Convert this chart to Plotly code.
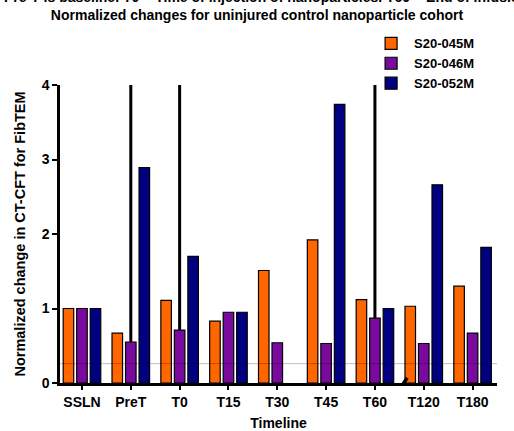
import plotly.graph_objects as go

# Timeline categories and normalized CT-CFT (FibTEM) values per subject
timeline = ["SSLN", "PreT", "T0", "T15", "T30", "T45", "T60", "T120", "T180"]
s20_045m = [1.00, 0.67, 1.11, 0.83, 1.51, 1.92, 1.12, 1.03, 1.30]
s20_046m = [1.00, 0.55, 0.71, 0.95, 0.54, 0.53, 0.87, 0.53, 0.67]
s20_052m = [1.00, 2.89, 1.70, 0.95, None, 3.74, 1.00, 2.66, 1.82]
# upper error for S20-046M (runs off the top of the axis)
s20_046m_err = [0, 4.5, 4.5, 0, 0, 0, 4.5, 0, 0]

series_names = ["S20-045M", "S20-046M", "S20-052M"]
series_colors = ["#FF6600", "#7A0A9E", "#000080"]

title_line1 = "B. Pre-T is baseline. T0 = Time of injection of nanoparticles. T60 = End of infusion"
title_line2 = "Normalized changes for uninjured control nanoparticle cohort"

font_family = "Liberation Sans, Arial, sans-serif"

fig = go.Figure()
for name, vals, col in zip(series_names, [s20_045m, s20_046m, s20_052m], series_colors):
    kw = {}
    if name == "S20-046M":
        kw["error_y"] = dict(type="data", symmetric=False, array=s20_046m_err,
                             arrayminus=[0] * len(timeline), color="black",
                             thickness=3, width=0)
    fig.add_trace(go.Bar(
        x=timeline, y=vals, name=name,
        marker=dict(color=col, line=dict(color="black", width=1.2)),
        **kw,
    ))

fig.update_layout(
    width=514, height=431,
    margin=dict(l=60, r=17, t=85, b=48),
    paper_bgcolor="white", plot_bgcolor="white",
    barmode="group", bargap=0.17, bargroupgap=0.22,
    font=dict(family=font_family, size=13, color="black", weight="bold"),
    showlegend=True,
    legend=dict(x=0.705, y=1.19, xanchor="left", yanchor="top",
                font=dict(size=13, weight="bold"), bgcolor="rgba(0,0,0,0)",
                tracegroupgap=0, itemwidth=36),
)

fig.update_xaxes(
    range=[-0.45, 8.5], showline=True, linecolor="black", linewidth=3,
    ticks="outside", ticklen=4, tickwidth=2, tickcolor="black",
    tickfont=dict(size=14, weight="bold"), automargin=False,
    title=dict(text="Timeline", font=dict(size=14, weight="bold"), standoff=10),
    showgrid=False, zeroline=False,
)
fig.update_yaxes(
    range=[0, 4], tickvals=[0, 1, 2, 3, 4], showline=True, linecolor="black",
    linewidth=2.5, ticks="outside", ticklen=5, tickwidth=2, tickcolor="black",
    tickfont=dict(size=14, weight="bold"), automargin=False,
    title=dict(text="Normalized change in CT-CFT for FibTEM",
               font=dict(size=14.5, weight="bold"), standoff=13),
    showgrid=False, zeroline=False,
)

# faint reference line near the base of the bars
fig.add_shape(type="line", xref="paper", x0=0, x1=1, yref="y", y0=0.26, y1=0.26,
              line=dict(color="rgba(0,0,0,0.25)", width=1), layer="above")
# axis break mark between T60 and T120
fig.add_shape(type="line", xref="x", yref="y", x0=6.46, x1=6.66, y0=-0.13, y1=0.07,
              line=dict(color="black", width=3.5), layer="above")

fig.add_annotation(
    xref="paper", yref="paper", x=0.451, y=1.2, xanchor="center", yanchor="bottom",
    text=title_line1 + "<br>" + title_line2, showarrow=False,
    font=dict(size=14, weight="bold"), align="center",
)

fig.write_html("out.html")
